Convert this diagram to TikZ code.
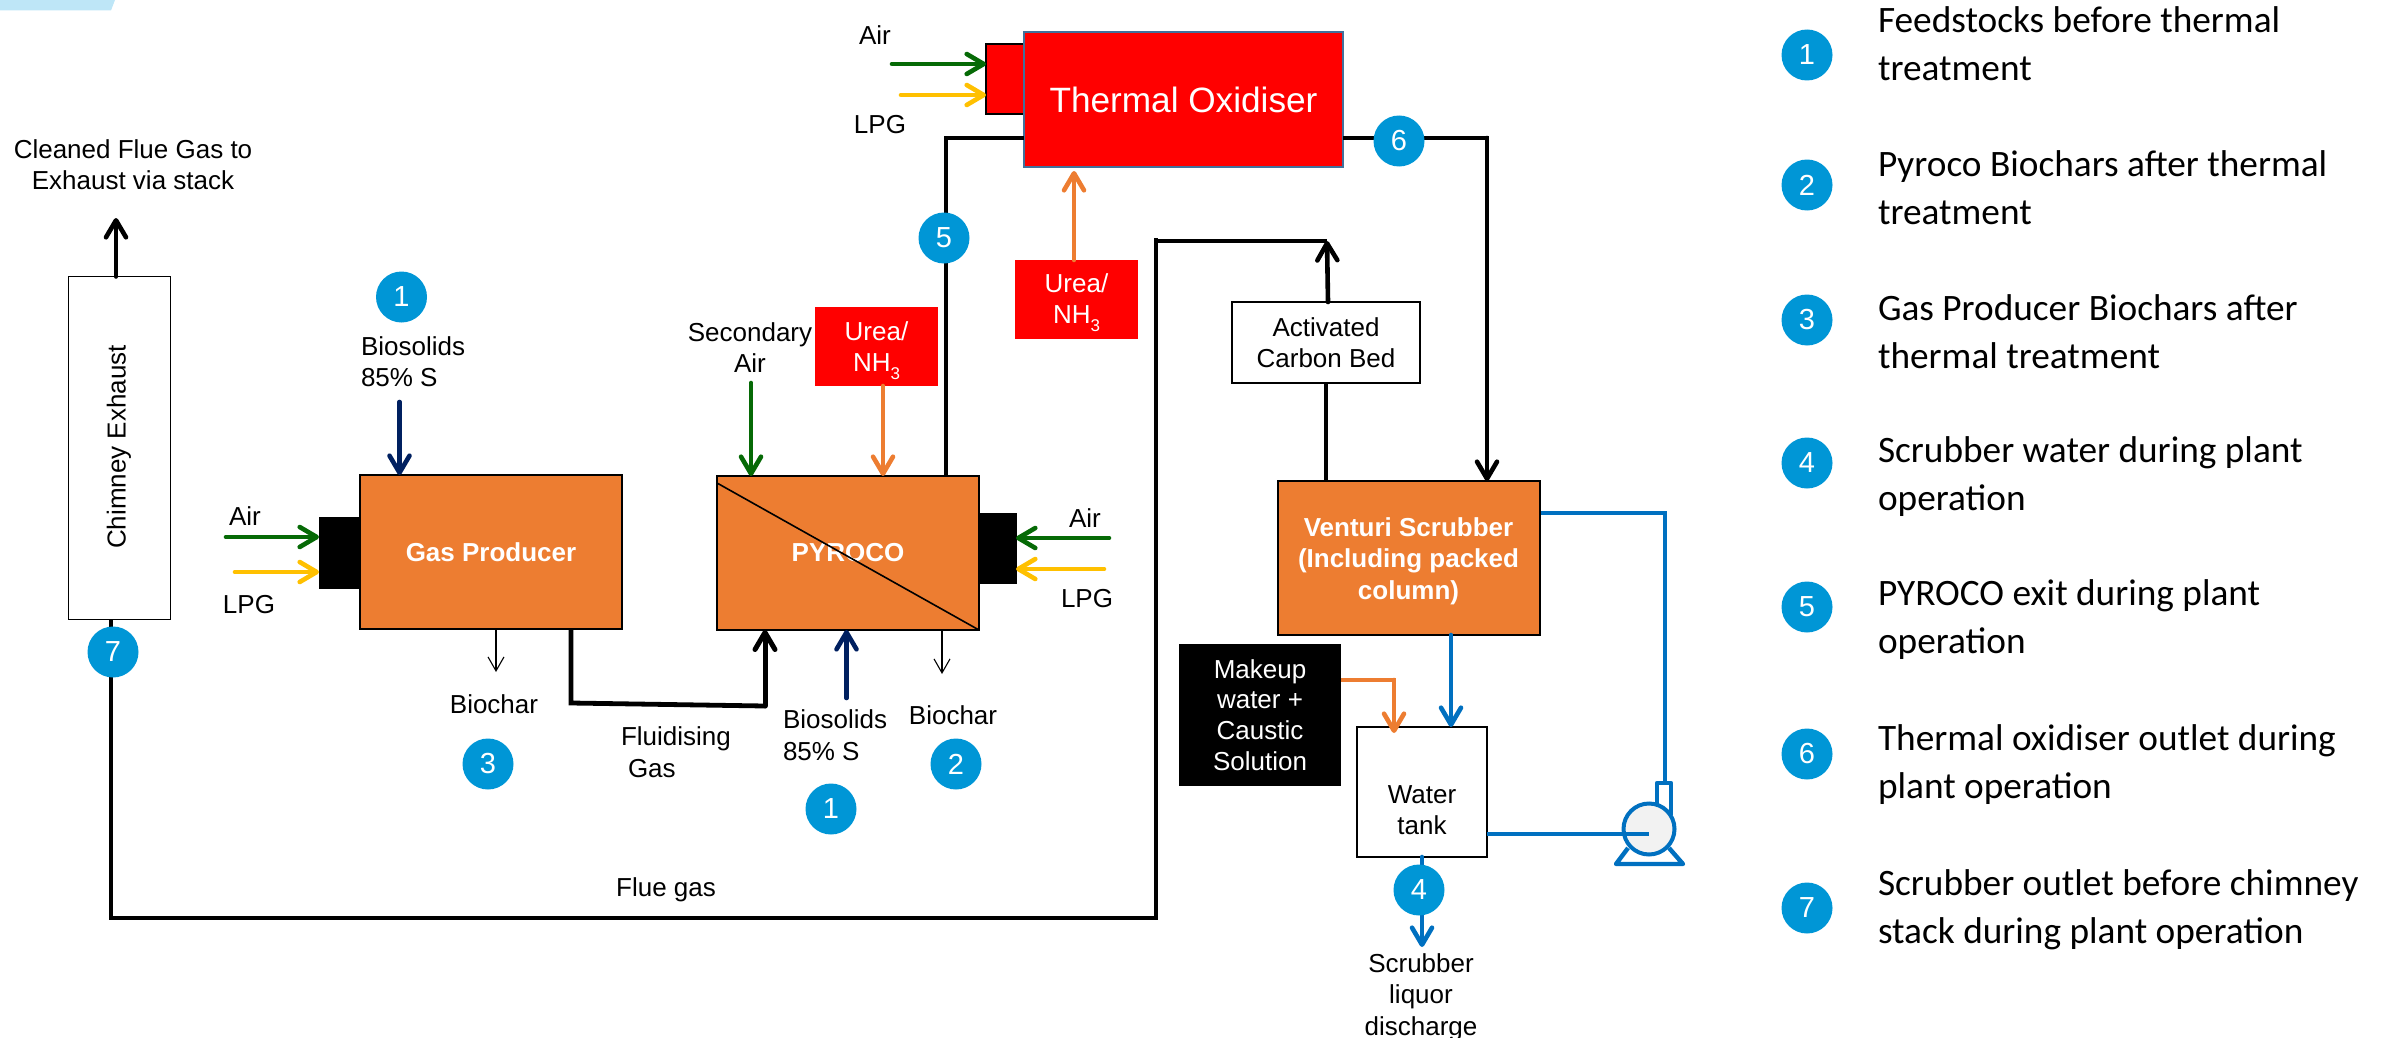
\documentclass[tikz,border=0pt]{standalone}
\usepackage{fontspec}
\setmainfont{Liberation Sans}
\newfontfamily\legfont{Carlito}
\usetikzlibrary{arrows.meta,calc}
\definecolor{orbox}{HTML}{ED7D31}
\definecolor{badge}{HTML}{0096D6}
\definecolor{navyc}{HTML}{002060}
\definecolor{greenc}{HTML}{066A06}
\definecolor{lpgc}{HTML}{FFC000}
\definecolor{bluec}{HTML}{0070C0}
\definecolor{tobord}{HTML}{41719C}
\definecolor{cornerc}{HTML}{BEE6F7}
\newcommand{\fsz}[2]{\fontsize{#1}{#2}\selectfont}
\newcommand{\nhthree}{NH\raisebox{-0.28em}{\fsz{17}{17}3}}
\tikzset{
  x=1pt,y=-1pt,
  txt/.style={font=\fsz{26}{31.5},align=center,inner sep=0pt,outer sep=0pt,text=black},
  wtxt/.style={txt,text=white},
  wbtxt/.style={txt,text=white,font=\bfseries\fsz{26}{31.5}},
  boxbase/.style={rectangle,inner sep=0pt,outer sep=0pt,align=center},
  whitebox/.style={boxbase,draw=black,line width=1.6pt,fill=white,font=\fsz{26}{31.5}},
  orangebox/.style={boxbase,draw=black,line width=1.8pt,fill=orbox,text=white,font=\bfseries\fsz{26}{31.5}},
  redbox/.style={boxbase,fill=red},
  burner/.style={boxbase,fill=black,draw=black},
  badgec/.style={circle,fill=badge,text=white,inner sep=0pt,outer sep=0pt,minimum size=51pt,font=\fsz{29}{29}},
  legtxt/.style={anchor=west,inner sep=0pt,outer sep=0pt,align=left,text=black,font=\legfont\fsz{37.3}{48}},
  barb/.style={-{Straight Barb[round,length=17pt,width=20pt]},line cap=round,line width=4.6pt},
  thinbarb/.style={-{Straight Barb[length=14pt,width=16pt]},line width=1.1pt,black},
  pipe/.style={line width=4.8pt,black,line join=miter},
  bline/.style={line width=4.4pt,bluec},
}
\begin{document}
\begin{tikzpicture}
\useasboundingbox (0,0) rectangle (2392,1038);
\fill[cornerc] (0,0) -- (115,0) -- (111,10.5) -- (0,10.5) -- cycle;

% boxes
\node[whitebox,minimum width=102pt,minimum height=343pt] (chimney) at (119.5,448) {};
\node[txt,rotate=90] (chimneytxt) at (119,447) {Chimney Exhaust};
\node[orangebox,minimum width=262pt,minimum height=154pt] (gp) at (491,552) {Gas Producer};
\node[burner,minimum width=41pt,minimum height=71pt] (gpb) at (339.5,553) {};
\node[orangebox,minimum width=262pt,minimum height=154pt] (py) at (848,553) {PYROCO};
\node[burner,minimum width=38pt,minimum height=70pt] (pyb) at (997,548) {};
\node[boxbase,fill=red,draw=black,line width=1.6pt,minimum width=38pt,minimum height=70pt] (tob) at (1005,79) {};
\node[boxbase,fill=red,draw=tobord,line width=1.5pt,minimum width=319pt,minimum height=135pt,text=white,font=\fsz{35.2}{40}] (to) at (1183.5,99.5) {Thermal Oxidiser};
\node[redbox,minimum width=123pt,minimum height=79pt] (urea1) at (876.5,346.5) {};
\node[wtxt] (lurea1) at (876.5,350.5) {Urea/\\\nhthree};
\node[redbox,minimum width=123pt,minimum height=79pt] (urea2) at (1076.5,299.5) {};
\node[wtxt] (lurea2) at (1076.5,302.5) {Urea/\\\nhthree};
\node[whitebox,minimum width=188pt,minimum height=81pt] (acb) at (1326,342.5) {Activated\\Carbon Bed};
\node[orangebox,minimum width=262pt,minimum height=154pt] (vs) at (1409,558) {};
\node[wbtxt] (lvs) at (1408.5,561) {Venturi Scrubber\\(Including packed\\column)};
\node[boxbase,fill=black,text=white,font=\fsz{26}{30.8},minimum width=162pt,minimum height=142pt] (mk) at (1260,715) {Makeup\\water +\\Caustic\\Solution};
\node[whitebox,minimum width=130pt,minimum height=130pt] (tank) at (1422,792) {};
\node[txt] (ltank) at (1422,810) {Water\\tank};

% PYROCO diagonal
\coordinate (dg1) at (717,483);
\draw[line width=1.6pt,black] (dg1) -- (py.south east);

% labels
\node[txt] (lcleaned) at (133,164.5) {Cleaned Flue Gas to\\Exhaust via stack};
\node[txt,align=left,anchor=west] (lbio1) at (361,361.5) {Biosolids\\85\% S};
\node[txt] (lair1) at (245,516) {Air};
\node[txt] (llpg1) at (249,605) {LPG};
\node[txt] (lbc1) at (494,704) {Biochar};
\node[txt,align=left,anchor=west] (lfl) at (621,752) {Fluidising\\\hspace*{7pt}Gas};
\node[txt] (lflue) at (666,889.5) {Flue gas};
\node[txt,align=left,anchor=west] (lbio2) at (783,735) {Biosolids\\85\% S};
\node[txt] (lbc2) at (953,715) {Biochar};
\node[txt] (lsec) at (750,347.5) {Secondary\\Air};
\node[txt] (lair2) at (1085,518) {Air};
\node[txt] (llpg2) at (1087,599) {LPG};
\node[txt] (lair3) at (875,35) {Air};
\node[txt] (llpg3) at (880,125) {LPG};
\node[txt] (lscr) at (1421,997) {Scrubber\\liquor\\discharge};

% free ends
\coordinate (exh) at (116,218);
\coordinate (bio1t) at (399.5,402);
\coordinate (air1s) at (226,537);
\coordinate (lpg1s) at (235,572);
\coordinate (bc1e) at (496,672);
\coordinate (secs) at (751,383);
\coordinate (bio2s) at (846.5,698);
\coordinate (bc2e) at (942,674);
\coordinate (air2s) at (1109,538);
\coordinate (lpg2s) at (1104,569);
\coordinate (air3s) at (892,64);
\coordinate (lpg3s) at (901,95);
\coordinate (fla) at (571,703);
\coordinate (flb) at (765,706);
\coordinate (lnfive) at (946,138);
\coordinate (lnsix) at (1487,138);
\coordinate (flue0) at (111,918);
\coordinate (flue1) at (1156,918);
\coordinate (flue2) at (1156,238);
\coordinate (flue3) at (1156,241);
\coordinate (flue4) at (1327,241);
\coordinate (vout) at (1541,513);
\coordinate (voutb) at (1665,513);
\coordinate (mk1) at (1341,680);
\coordinate (mk2) at (1394,680);
\coordinate (mk3) at (1394,733);
\coordinate (disch) at (1422,947);
\coordinate (vsw) at (1451,635);

% black connectors
\draw[barb,black] (chimney.north -| exh) -- (exh);
\draw[pipe] (gp.south -| fla) -- (fla) -- (flb);
\draw[barb,black,line width=5pt] (flb) -- (py.south -| flb);
\draw[pipe] (py.north -| lnfive) -- (lnfive) -- (to.west |- lnfive);
\draw[pipe] (to.east |- lnsix) -- (lnsix) -- ($(lnsix)+(0,2)$);
\draw[barb,black] (lnsix) -- (vs.north -| lnsix);
\draw[pipe] (chimney.south -| flue0) -- (flue0) -- (flue1) -- (flue2);
\draw[pipe] (flue3) -- (flue4);
\draw[pipe] (vs.north -| acb) -- (acb.south);
\draw[barb,black] ($(acb.north)+(2,0)$) -- (flue4);
\draw[thinbarb] (gp.south -| bc1e) -- (bc1e);
\draw[thinbarb] (py.south -| bc2e) -- (bc2e);

% coloured arrows
\draw[barb,navyc] (bio1t) -- (gp.north -| bio1t);
\draw[barb,navyc] (bio2s) -- (py.south -| bio2s);
\draw[barb,greenc] (air1s) -- (gpb.west |- air1s);
\draw[barb,lpgc] (lpg1s) -- (gpb.west |- lpg1s);
\draw[barb,greenc] (secs) -- (py.north -| secs);
\draw[barb,greenc] (air2s) -- (pyb.east |- air2s);
\draw[barb,lpgc] (lpg2s) -- (pyb.east |- lpg2s);
\draw[barb,greenc] (air3s) -- (tob.west |- air3s);
\draw[barb,lpgc] (lpg3s) -- (tob.west |- lpg3s);
\draw[barb,orbox] ($(urea1.south)+(6.5,0)$) -- ($(py.north)+(35,0)$);
\draw[barb,orbox] ($(urea2.north)+(-2.5,0)$) -- ($(to.south)+(-109.5,4)$);
\draw[line width=4.6pt,orbox] (mk1) -- (mk2) -- ($(mk2)+(0,3)$);
\draw[barb,orbox] (mk2) -- (mk3);

% blue water circuit
\draw[barb,bluec] (vsw) -- (tank.north -| vsw);
\draw[barb,bluec] (tank.south -| disch) -- (disch);
\draw[bline,line join=round,fill=white] (1657,815) -- (1657,783) -- (1671,783) -- (1671,815);
\draw[bline,line join=round] (1628,848) -- (1616,864) -- (1683,864) -- (1669,848);
\draw[bline] (vout) -- (voutb) -- (voutb |- 0,783);
\node[circle,draw=bluec,line width=4pt,fill=black!5,minimum size=51pt,inner sep=0pt,outer sep=0pt] (pump) at (1649,829) {};
\draw[line width=4.6pt,bluec] (tank.east |- pump.center) ++(0,5) coordinate (pin) -- (pin -| pump.center);

% process badges
\node[badgec] (b1a) at (401.5,297) {1};
\node[badgec] (b1b) at (831,809) {1};
\node[badgec] (b2) at (956,764) {2};
\node[badgec] (b3) at (488,764) {3};
\node[badgec] (b4) at (1419,890) {4};
\node[badgec] (b5) at (944,238) {5};
\node[badgec] (b6) at (1399,141) {6};
\node[badgec] (b7) at (113,652) {7};

% legend
\foreach \nm/\yy/\lab in {l1/55/1,l2/185/2,l3/320/3,l4/463/4,l5/607/5,l6/754/6,l7/908/7}
  \node[badgec] (\nm) at (1807,\yy) {\lab};
\node[legtxt] (t1) at (1878,44) {Feedstocks before thermal\\treatment};
\node[legtxt] (t2) at (1878,188) {Pyroco Biochars after thermal\\treatment};
\node[legtxt] (t3) at (1878,331.5) {Gas Producer Biochars after\\thermal treatment};
\node[legtxt] (t4) at (1878,476.5) {Scrubber water during plant\\operation};
\node[legtxt] (t5) at (1878,620) {PYROCO exit during plant\\operation};
\node[legtxt] (t6) at (1878,764.5) {Thermal oxidiser outlet during\\plant operation};
\node[legtxt] (t7) at (1878,910) {Scrubber outlet before chimney\\stack during plant operation};
\end{tikzpicture}
\end{document}
